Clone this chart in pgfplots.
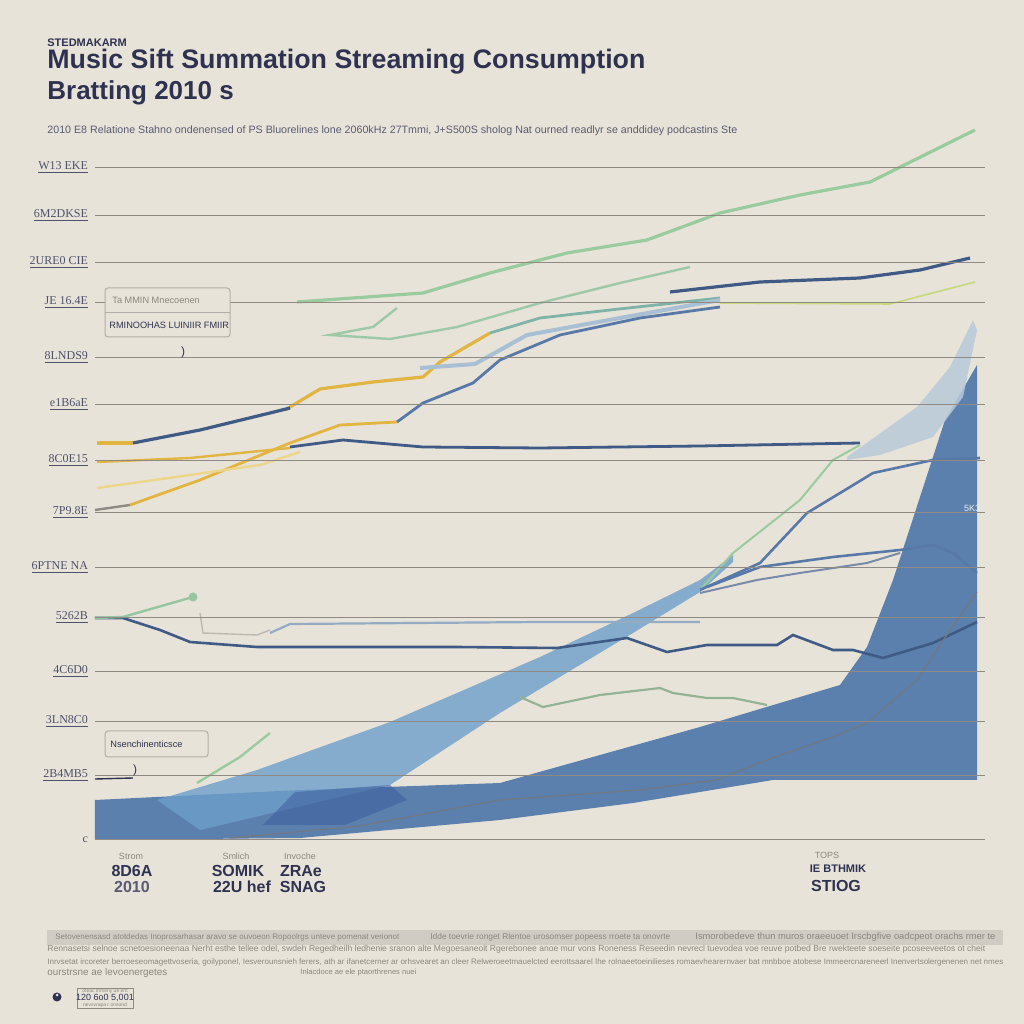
\documentclass[border=0pt]{standalone}
\usepackage{fontspec}
\setmainfont{Liberation Sans}
\newfontfamily\seriffont{Liberation Serif}
\usepackage{pgfplots}
\pgfplotsset{compat=1.18}
\definecolor{bg}{HTML}{E8E3D9}
\definecolor{gridc}{HTML}{8F8B84}
\definecolor{titlec}{HTML}{2E3250}
\definecolor{navy}{HTML}{3E5A85}
\definecolor{greenl}{HTML}{9ACB9E}
\definecolor{yell}{HTML}{E2B543}
\definecolor{paley}{HTML}{EDD58A}
\definecolor{ygreen}{HTML}{C8D97C}
\definecolor{teal}{HTML}{7FB3A8}
\definecolor{bluel}{HTML}{5878A8}
\definecolor{paleb}{HTML}{A9BFD3}
\definecolor{areaA}{HTML}{5B80AD}
\definecolor{areaB}{HTML}{6E9FCB}
\definecolor{areaD}{HTML}{B7CAD8}
\definecolor{blob}{HTML}{3D5C9E}
\definecolor{textg}{HTML}{8A8780}
\begin{document}
\begin{tikzpicture}[x=0.5pt,y=0.5pt]
\fill[bg] (0,0) rectangle (1024,1024);
\useasboundingbox (0,0) rectangle (1024,1024);
% titles
\node[anchor=west,inner sep=0,text=titlec] at (47,981) {\fontsize{5.5}{6}\selectfont\bfseries STEDMAKARM};
\node[anchor=west,inner sep=0,text=titlec] at (47,962) {\resizebox{299pt}{!}{\fontsize{15}{17}\selectfont\bfseries Music Sift Summation Streaming Consumption}};
\node[anchor=west,inner sep=0,text=titlec] at (47,931) {\fontsize{13}{15}\selectfont\bfseries Bratting 2010 s};
\node[anchor=west,inner sep=0,text=titlec!80] at (47,893) {\resizebox{345pt}{!}{\fontsize{6}{7}\selectfont 2010 E8 Relatione Stahno ondenensed of PS Bluorelines lone 2060kHz 27Tmmi, J+S500S sholog Nat ourned readlyr se anddidey podcastins Ste}};
\begin{axis}[at={(95,184)}, anchor=south west, scale only axis,
  width=445pt, height=357.5pt,
  xmin=0, xmax=890, ymin=0, ymax=715,
  axis line style={draw=none}, xtick=\empty,
  ytick={0,64,118,168,222,272,327,379,435,482,537,577,624,672},
  yticklabels={c,\underline{2B4MB5},\underline{3LN8C0},\underline{4C6D0},\underline{5262B},\underline{6PTNE NA},\underline{7P9.8E},\underline{8C0E15},\underline{e1B6aE},\underline{8LNDS9},\underline{JE 16.4E},\underline{2URE0 CIE},\underline{6M2DKSE},\underline{W13 EKE}},
  yticklabel style={font=\seriffont\fontsize{6}{7}\selectfont, text=titlec!85},
  ymajorgrids, grid style={gridc, line width=0.5pt},
  major tick length=0pt, axis on top, clip=true]
% areas
\addplot[draw=none, fill=areaA] coordinates {(0,40)(205,50)(405,57)(605,113)(745,155)(772,193)(798,260)(825,343)(850,420)(882,475)(882,60)(678,60)(538,37)(405,20)(205,2)(0,0)};
\addplot[draw=none, fill=areaB, fill opacity=0.8] coordinates {(62,40)(162,70)(295,118)(445,183)(538,227)(605,260)(638,285)(638,278)(605,248)(538,207)(405,127)(295,55)(105,10)};
\addplot[draw=none, fill=blob, fill opacity=0.55] coordinates {(168,15)(200,48)(295,55)(312,40)(250,15)};
\addplot[draw=none, fill=areaD, fill opacity=0.85] coordinates {(752,383)(822,433)(855,473)(878,520)(882,510)(868,443)(838,403)(785,385)(752,380)};
% lines
\addplot[greenl, line width=1.6pt] coordinates {(202,538)(328,547)(395,567)(445,580)(472,587)(552,600)(625,627)(705,645)(775,658)(880,710)};
\addplot[navy, line width=1.6pt] coordinates {(575,548)(665,558)(765,562)(825,570)(875,582)};
\addplot[ygreen, line width=0.8pt] coordinates {(625,537)(795,536)(880,558)};
\addplot[greenl!80!paleb, line width=1.2pt] coordinates {(302,532)(278,513)(235,505)(295,501)(362,513)(445,537)(525,557)(595,573)};
\addplot[yell, line width=1.6pt] coordinates {(190,430)(225,451)(278,458)(328,463)(345,478)(395,507)};
\addplot[yell, line width=2.4pt] coordinates {(2,397)(38,397)};
\addplot[navy, line width=1.6pt] coordinates {(38,397)(105,410)(175,427)(195,432)};
\addplot[teal, line width=1.4pt] coordinates {(395,507)(445,522)(515,530)(625,542)};
\addplot[paleb, line width=2pt] coordinates {(325,472)(380,476)(432,505)(525,522)(625,540)};
\addplot[gridc, line width=1.2pt] coordinates {(0,330)(35,335)};
\addplot[yell, line width=1.4pt] coordinates {(35,335)(105,360)(195,397)(245,415)(302,418)};
\addplot[bluel, line width=1.4pt] coordinates {(302,418)(328,437)(378,457)(405,480)(465,505)(545,522)(625,533)};
\addplot[paley, line width=1.2pt] coordinates {(2,352)(95,365)(165,375)(205,388)};
\addplot[navy, line width=1.4pt] coordinates {(195,393)(248,400)(328,393)(445,392)(605,394)(765,397)};
\addplot[yell, line width=1.2pt] coordinates {(2,378)(95,382)(195,392)};
\addplot[greenl, line width=1pt] coordinates {(605,250)(638,287)(705,340)(738,380)(765,395)};
\addplot[bluel, line width=1.3pt] coordinates {(605,250)(665,277)(712,327)(755,353)(778,367)(838,380)(885,382)};
\addplot[bluel, line width=1.3pt] coordinates {(612,253)(665,273)(738,283)(805,290)(838,295)(858,287)(882,267)};
\addplot[navy!70, line width=1pt] coordinates {(605,247)(662,260)(705,267)(772,277)(805,287)};
\addplot[navy, line width=1.3pt] coordinates {(0,222)(28,222)(65,210)(95,198)(162,193)(362,193)(462,192)(532,202)(572,188)(612,195)(682,195)(698,205)(738,190)(758,190)(788,182)(838,197)(882,218)};
\addplot[paleb!80!navy, line width=1.1pt] coordinates {(175,207)(195,216)(445,218)(605,218)};
\addplot[greenl!80!teal, line width=1.2pt, mark=*, mark size=1.6pt, mark indices={3}] coordinates {(0,222)(28,223)(98,243)};
\addplot[gridc!60, line width=0.7pt] coordinates {(105,227)(108,207)(162,205)(175,210)};
\addplot[greenl!70!gray, line width=1.1pt] coordinates {(425,143)(448,133)(505,145)(565,152)(578,147)(612,142)(638,142)(672,135)};
\addplot[gray!80!navy, line width=0.6pt] coordinates {(135,2)(265,14)(405,40)(545,50)(622,60)(672,80)(738,103)(772,117)(822,160)(855,210)(882,248)};
\addplot[greenl, line width=1.2pt] coordinates {(102,57)(145,83)(175,107)};
\addplot[titlec, line width=0.7pt] coordinates {(0,61)(38,62)};
\end{axis}
% legend boxes
\draw[gridc!70, fill=bg, rounded corners=1.5pt, line width=0.5pt] (105,736) rectangle (230,687);
\draw[gridc!70, line width=0.5pt] (105,711) -- (230,711);
\node[anchor=west,inner sep=0,text=textg] at (112,724) {\fontsize{4.6}{5}\selectfont Ta MMIN Mnecoenen};
\node[anchor=west,inner sep=0,text=titlec] at (109,699) {\fontsize{4.6}{5}\selectfont RMINOOHAS LUINIIR FMIIR};
\node[text=titlec,inner sep=0] at (183,672) {\fontsize{6}{7}\selectfont )};
\draw[gridc!70, fill=bg, rounded corners=1.5pt, line width=0.5pt] (105,293) rectangle (208,267);
\node[anchor=west,inner sep=0,text=titlec] at (110,280) {\fontsize{4.6}{5}\selectfont Nsenchinenticsce};
\node[text=titlec,inner sep=0] at (135,254) {\fontsize{6}{7}\selectfont )};
\node[text=white!85!gray,inner sep=0] at (972,516) {\fontsize{4.5}{5}\selectfont 5K3};
% x labels
\node[text=textg,inner sep=0] at (131,168) {\fontsize{4.5}{5}\selectfont Strom};
\node[text=titlec,inner sep=0] at (132,153) {\fontsize{8}{9}\selectfont\bfseries 8D6A};
\node[text=titlec!80,inner sep=0] at (132,137) {\fontsize{8}{9}\selectfont\bfseries 2010};
\node[text=textg,inner sep=0] at (236,168) {\fontsize{4.5}{5}\selectfont Smlich};
\node[text=titlec,inner sep=0] at (238,153) {\fontsize{8}{9}\selectfont\bfseries SOMIK};
\node[text=titlec,inner sep=0] at (242,137) {\fontsize{8}{9}\selectfont\bfseries 22U hef};
\node[text=textg,inner sep=0] at (300,168) {\fontsize{4.5}{5}\selectfont Invoche};
\node[text=titlec,inner sep=0] at (301,153) {\fontsize{8}{9}\selectfont\bfseries ZRAe};
\node[text=titlec,inner sep=0] at (303,137) {\fontsize{8}{9}\selectfont\bfseries SNAG};
\node[text=textg,inner sep=0] at (827,169) {\fontsize{4.5}{5}\selectfont TOPS};
\node[text=titlec,inner sep=0] at (838,155) {\fontsize{5.5}{6}\selectfont\bfseries IE BTHMIK};
\node[text=titlec,inner sep=0] at (836,138) {\fontsize{8}{9}\selectfont\bfseries STIOG};
% footer
\fill[black!10!bg] (47,94) rectangle (1003,79);
\node[anchor=west,inner sep=0,text=textg] at (55,87) {\resizebox{172pt}{!}{\fontsize{4}{5}\selectfont Setovenensasd atotdedas Inoprosarhasar aravo se ouvoeon Ropoolrgs unteve pomenat verionot}};
\node[anchor=west,inner sep=0,text=textg] at (430,87) {\resizebox{120pt}{!}{\fontsize{4}{5}\selectfont Idde toevrie ronget Rlentoe urosomser popeess rroete ta onovrte}};
\node[anchor=west,inner sep=0,text=textg] at (695,87) {\resizebox{150pt}{!}{\fontsize{4}{5}\selectfont Ismorobedeve thun muros oraeeuoet Irscbgfive oadcpeot orachs rmer te}};
\node[anchor=west,inner sep=0,text=textg] at (47,75) {\resizebox{469pt}{!}{\fontsize{4}{5}\selectfont Rennasetsi selnoe scnetoesioneenaa Nerht esthe tellee odel, swdeh Regedheilh ledhenie sranon alte Megoesaneolt Rgerebonee anoe mur vons Roneness Reseedin nevrecl tuevodea voe reuve potbed Bre rwekteete soeseite pcoseeveetos ot cheit}};
\node[anchor=west,inner sep=0,text=textg] at (47,62) {\resizebox{478pt}{!}{\fontsize{4}{5}\selectfont Inrvsetat ircoreter berroeseomagettvoseria, goilyponel, Iesverounsnieh ferers, ath ar ifanetcerner ar orhsvearet an cleer Relweroeetmauelcted eerottsaarel Ihe rolnaeetoeinilieses romaevhearernvaer bat mnbboe atobese Immeercnareneerl Inenvertsolergenenen net nmes}};
\node[anchor=west,inner sep=0,text=textg] at (47,51) {\resizebox{60pt}{!}{\fontsize{4}{5}\selectfont ourstrsne ae levoenergetes}};
\node[anchor=west,inner sep=0,text=textg] at (300,51) {\resizebox{58pt}{!}{\fontsize{4}{5}\selectfont Inlacdoce ae ele ptaorthrenes nuei}};
\fill[titlec] (57,27) circle (4.5);
\fill[bg] (57,29) circle (1.5);
\draw[gridc, line width=0.4pt] (77,36) rectangle (133,16);
\node[inner sep=0,text=textg] at (105,33) {\fontsize{2.5}{3}\selectfont oteac mmeny ue ent};
\node[inner sep=0,text=titlec] at (105,26) {\fontsize{4.5}{5}\selectfont 120 6o0 5,001};
\node[inner sep=0,text=textg] at (105,19) {\fontsize{2.5}{3}\selectfont nevsvrapa r onsond};
\end{tikzpicture}
\end{document}
